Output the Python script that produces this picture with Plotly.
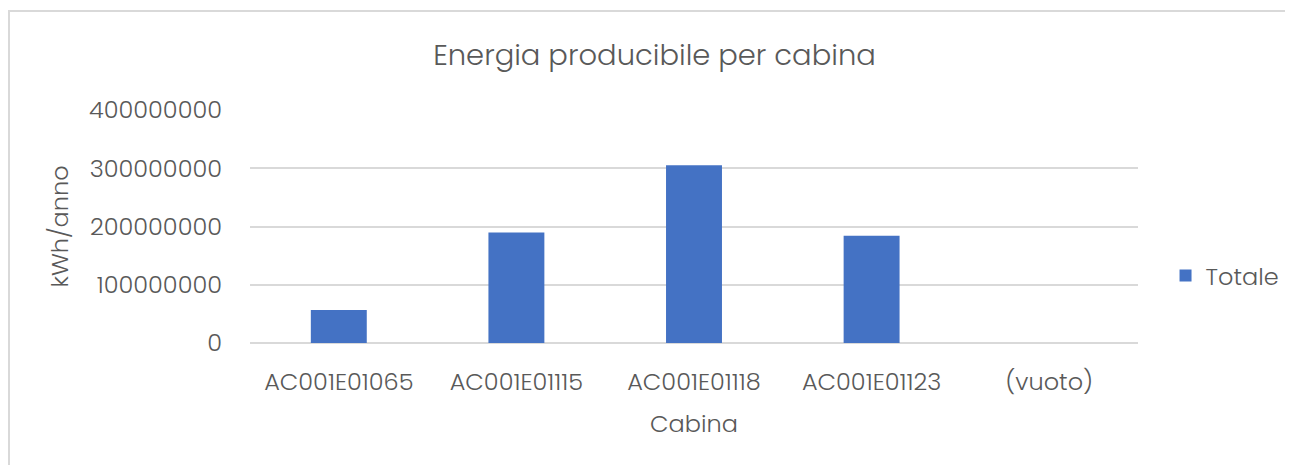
import plotly.graph_objects as go

cabine = ["AC001E01065", "AC001E01115", "AC001E01118", "AC001E01123", "(vuoto)"]
totale = [56500000, 189500000, 305000000, 184000000, None]

FONT = "Poppins, 'Open Sans', sans-serif"
GREY = "#595959"

fig = go.Figure()
fig.add_trace(go.Bar(x=cabine, y=totale, name="Totale",
                     marker=dict(color="#4472C4", line=dict(width=0)),
                     showlegend=True))

# outer chart border (Excel-like frame, clipped at right/bottom)
fig.add_shape(type="rect", xref="paper", yref="paper",
              x0=-0.2714, x1=1.19, y0=-0.6, y1=1.425,
              line=dict(color="#d9d9d9", width=2), fillcolor="rgba(0,0,0,0)",
              layer="below")

fig.update_layout(
    width=1293, height=465,
    margin=dict(l=242, r=163, t=102, b=130),
    paper_bgcolor="white", plot_bgcolor="white",
    font=dict(family=FONT, color=GREY, size=24, weight=300),
    title=dict(text="Energia producibile per cabina", x=0.5, xanchor="center",
               y=0.899, yanchor="middle", font=dict(size=29, color=GREY, weight=300)),
    bargap=0.685,
    xaxis=dict(title=dict(text="Cabina", font=dict(size=24, weight=300), standoff=18),
               showgrid=False, showline=False, zeroline=False,
               ticklabelstandoff=22, tickfont=dict(size=24, weight=300)),
    yaxis=dict(title=dict(text="kWh/anno", font=dict(size=24, weight=300), standoff=13),
               range=[0, 400000000], dtick=100000000, tickformat="d",
               showgrid=True, gridcolor="#d9d9d9", gridwidth=1.5,
               zeroline=True, zerolinecolor="#d9d9d9", zerolinewidth=1.5,
               showline=False, ticklabelstandoff=27, tickfont=dict(size=24, weight=300)),
    legend=dict(x=1.031, y=0.2876, xanchor="left", yanchor="middle",
                font=dict(size=24, weight=300), itemwidth=30),
)

fig.write_html("out.html")
